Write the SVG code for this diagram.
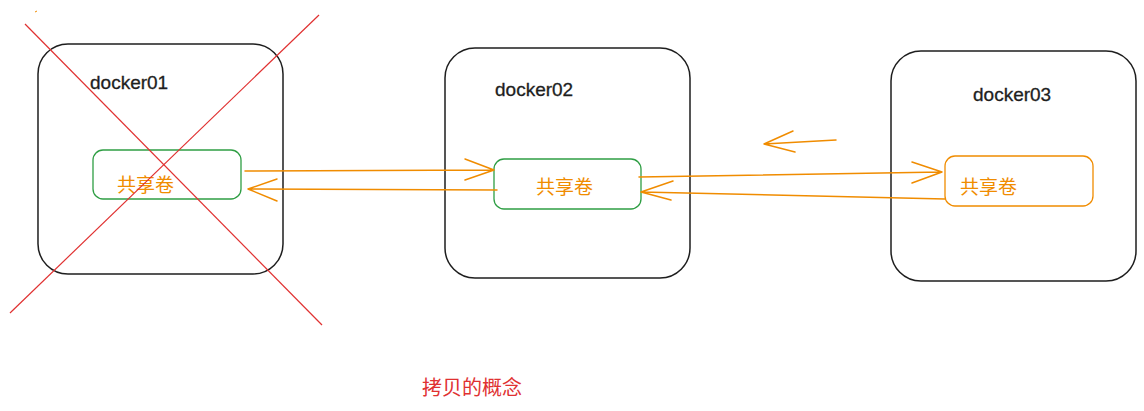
<svg xmlns="http://www.w3.org/2000/svg" width="1144" height="411" viewBox="0 0 1144 411">
<defs>
<style>
.box{fill:none;stroke:#1e1e1e;stroke-width:1.5}
.vol{fill:none;stroke-width:1.3}
.g{stroke:#2f9e44}
.o{stroke:#f08c00}
.name{font-family:"Liberation Sans",sans-serif;font-size:19px;fill:#1e1e1e;stroke:#1e1e1e;stroke-width:0.3}
.vt{font-family:"Noto Sans CJK SC",sans-serif;font-size:19px;fill:#f08c00}
.arr{fill:none;stroke:#f08c00;stroke-width:1.5;stroke-linecap:round;stroke-linejoin:round}
.x{stroke:#e03131;stroke-width:1.2;fill:none}
</style>
</defs>
<rect width="1144" height="411" fill="#ffffff"/>
<g id="docker01">
<rect class="box" x="38" y="44" width="245" height="230" rx="30"/>
<text class="name" x="90" y="89">docker01</text>
<rect class="vol g" x="93" y="150" width="148" height="49" rx="10"/>
<text class="vt" x="117" y="192">共享卷</text>
</g>
<g id="docker02">
<rect class="box" x="445" y="48" width="245" height="230" rx="30"/>
<text class="name" x="495" y="96">docker02</text>
<rect class="vol g" x="494" y="159" width="147" height="50" rx="10"/>
<text class="vt" x="536" y="194">共享卷</text>
</g>
<g id="docker03">
<rect class="box" x="891" y="51" width="245" height="230" rx="30"/>
<text class="name" x="973" y="101">docker03</text>
<rect class="vol o" x="945" y="156" width="148" height="50" rx="10"/>
<text class="vt" x="960" y="194">共享卷</text>
</g>
<g id="cross">
<line class="x" x1="25" y1="24" x2="322" y2="325"/>
<line class="x" x1="319" y1="15" x2="10" y2="313"/>
<line x1="35" y1="12" x2="37" y2="11" stroke="#f08c00" stroke-width="1"/>
</g>
<g id="connectors">
<path class="arr" d="M245 171 L494 170 M465 159 L494 170 L465 180"/>
<path class="arr" d="M497 190 L248 189 M277 179 L248 189 L277 201"/>
<path class="arr" d="M639 177 L942 172 M912 162 L942 172 L912 183"/>
<path class="arr" d="M945 199 L641 192 M673 181 L641 192 L671 200"/>
<path class="arr" d="M836 140 L764 144 M793 131 L764 144 L795 152"/>
</g>
<text x="422" y="395" font-family="Noto Sans CJK SC,sans-serif" font-size="20" fill="#e03131">拷贝的概念</text>
</svg>
